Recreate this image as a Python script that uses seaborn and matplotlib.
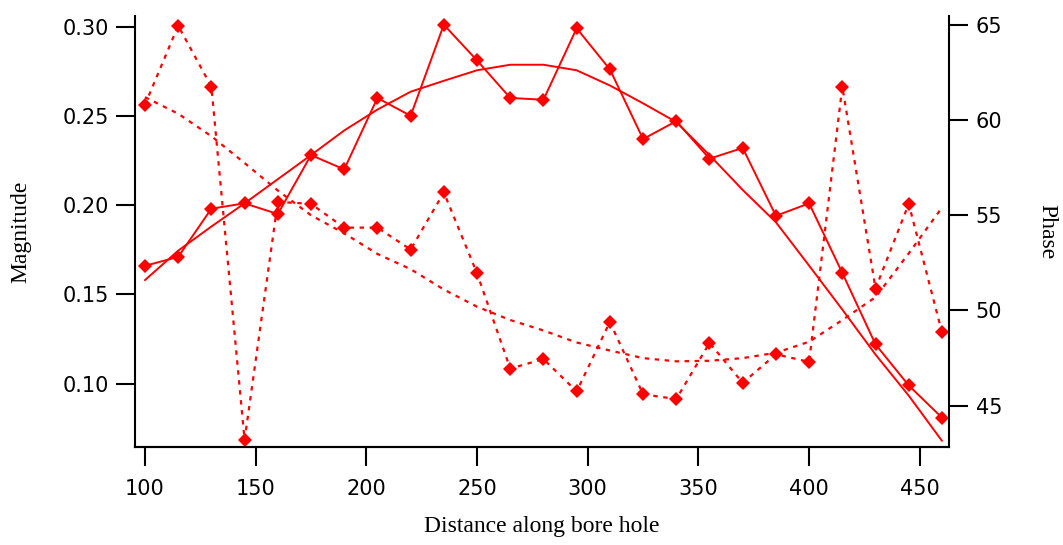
import pandas as pd
import matplotlib
matplotlib.use("Agg")
import matplotlib.pyplot as plt
import seaborn as sns

# values
distance = [100, 115, 130, 145, 160, 175, 190, 205, 220, 235, 250, 265, 280,
            295, 310, 325, 340, 355, 370, 385, 400, 415, 430, 445, 460]
magnitude = [0.166, 0.171, 0.198, 0.201, 0.195, 0.228, 0.220, 0.260, 0.250,
             0.301, 0.281, 0.260, 0.259, 0.299, 0.276, 0.237, 0.247, 0.226,
             0.232, 0.194, 0.201, 0.162, 0.122, 0.099, 0.081]
phase = [60.8, 64.95, 61.75, 43.2, 55.7, 55.6, 54.35, 54.35, 53.2, 56.2,
         51.95, 46.95, 47.45, 45.75, 49.4, 45.6, 45.35, 48.3, 46.2, 47.7,
         47.3, 61.75, 51.15, 55.6, 48.85]
# smoothed trend lines, also
magnitude_fit = [0.158, 0.1745, 0.188, 0.201, 0.2145, 0.228, 0.2418, 0.2535,
                 0.2635, 0.2696, 0.2755, 0.2786, 0.2786, 0.2755, 0.267, 0.257,
                 0.2465, 0.228, 0.2085, 0.1904, 0.1661, 0.1415, 0.1163,
                 0.0933, 0.068]
phase_fit = [61.2, 60.33, 59.15, 57.74, 56.3, 55.0, 54.05, 52.97, 52.17,
             51.1, 50.2, 49.5, 48.95, 48.32, 47.9, 47.5, 47.33, 47.36, 47.5,
             47.78, 48.36, 49.5, 50.7, 53.0, 55.4]

xticks = [100, 150, 200, 250, 300, 350, 400, 450]
mag_ticks = [0.10, 0.15, 0.20, 0.25, 0.30]
phase_ticks = [45, 50, 55, 60, 65]

sns.set_style("ticks")
plt.rcParams['font.family'] = ['DejaVu Sans']
plt.rcParams['text.color'] = 'black'
plt.rcParams['axes.labelcolor'] = 'black'
plt.rcParams['xtick.color'] = 'black'
plt.rcParams['ytick.color'] = 'black'
plt.rcParams['axes.edgecolor'] = 'black'

df = pd.DataFrame({"distance": distance, "magnitude": magnitude, "phase": phase,
                   "magnitude_fit": magnitude_fit, "phase_fit": phase_fit})

fig = plt.figure(figsize=(10.63, 5.45), dpi=100)
ax = fig.add_axes([0.127, 0.179, 0.766, 0.792])
ax2 = ax.twinx()

dash = (0, (2, 2.5))
sns.lineplot(data=df, x="distance", y="magnitude", ax=ax, color="red",
             linewidth=1.4, marker="D", markersize=7, markeredgewidth=0)
sns.lineplot(data=df, x="distance", y="magnitude_fit", ax=ax, color="red",
             linewidth=1.4)
sns.lineplot(data=df, x="distance", y="phase", ax=ax2, color="red",
             linewidth=1.6, linestyle=dash, marker="D", markersize=7,
             markeredgewidth=0)
sns.lineplot(data=df, x="distance", y="phase_fit", ax=ax2, color="red",
             linewidth=1.6, linestyle=dash)

ax.set_xlim(95.5, 463.3)
ax.set_ylim(0.0643, 0.306)
ax2.set_ylim(42.81, 65.47)

ax.set_xticks(xticks)
ax.set_yticks(mag_ticks)
ax.set_yticklabels([f"{t:.2f}" for t in mag_ticks])
ax2.set_yticks(phase_ticks)

for a in (ax, ax2):
    a.spines["top"].set_visible(False)
    for s in a.spines.values():
        s.set_linewidth(1.5)
    a.tick_params(direction="out", length=14, width=1.5, labelsize=15, pad=5)
ax.tick_params(axis="x", pad=9)

ax.spines["right"].set_visible(False)
ax2.spines["left"].set_visible(False)

ax.set_xlabel("Distance along bore hole", family="Liberation Serif", fontsize=17, labelpad=12)
ax.set_ylabel("Magnitude", family="Liberation Serif", fontsize=17, labelpad=22)
ax2.set_ylabel("Phase", family="Liberation Serif", fontsize=17, rotation=-90, labelpad=40)

fig.savefig("out.png", dpi=100)
